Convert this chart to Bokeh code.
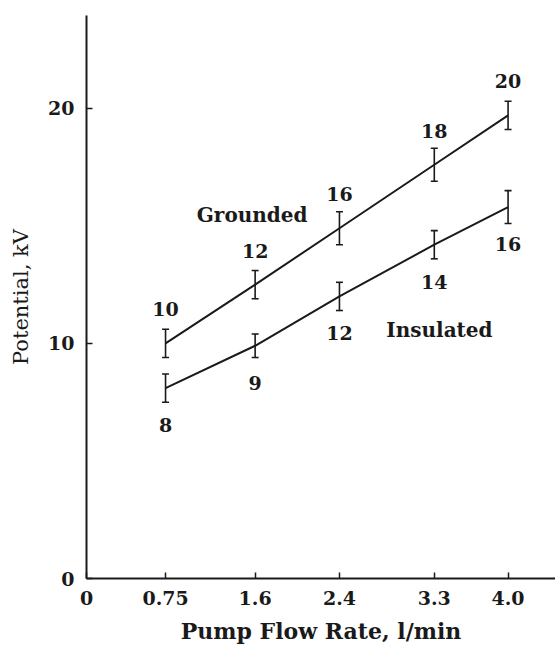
from bokeh.plotting import figure
from bokeh.models import (ColumnDataSource, Range1d, FixedTicker, Whisker, TeeHead, Label)
from bokeh.core.properties import value
from bokeh.embed import file_html
from bokeh.resources import INLINE

# ---- data ----
flow_rate = [0.75, 1.6, 2.4, 3.3, 4.0]
grounded = [10.0, 12.5, 14.9, 17.6, 19.7]
grounded_err = [0.6, 0.6, 0.7, 0.7, 0.6]
grounded_labels = ["10", "12", "16", "18", "20"]
insulated = [8.1, 9.9, 12.0, 14.2, 15.8]
insulated_err = [0.6, 0.5, 0.6, 0.6, 0.7]
insulated_labels = ["8", "9", "12", "14", "16"]
x_ticks = [0, 0.75, 1.6, 2.4, 3.3, 4.0]
x_tick_labels = ["0", "0.75", "1.6", "2.4", "3.3", "4.0"]
y_ticks = [0, 10, 20]

FONT = "DejaVu Serif"
INK = "#1a1a1a"
NUM_SIZE = "19px"

p = figure(width=555, height=654, output_backend="svg", toolbar_location=None,
           x_range=Range1d(0, 4.45), y_range=Range1d(0, 23.95),
           min_border_left=86, min_border_right=0, min_border_top=15, min_border_bottom=76)
p.outline_line_color = None
p.xgrid.visible = False
p.ygrid.visible = False
p.background_fill_color = "white"
p.border_fill_color = "white"

for ax in (p.xaxis[0], p.yaxis[0]):
    ax.axis_line_color = INK
    ax.axis_line_width = 2
    ax.major_tick_line_color = INK
    ax.major_tick_line_width = 1.5
    ax.major_tick_in = 6
    ax.major_tick_out = 0
    ax.minor_tick_line_color = None
    ax.major_label_text_font = FONT
    ax.major_label_text_font_style = "bold"
    ax.major_label_text_font_size = NUM_SIZE
    ax.major_label_text_color = INK
    ax.axis_label_text_font = FONT
    ax.axis_label_text_color = INK

p.xaxis.ticker = FixedTicker(ticks=x_ticks)
p.xaxis.major_label_overrides = {t: l for t, l in zip(x_ticks, x_tick_labels)}
p.xaxis.major_label_standoff = 12
p.xaxis.axis_label = "Pump Flow Rate, l/min"
p.xaxis.axis_label_text_font_style = "bold"
p.xaxis.axis_label_text_font_size = "22px"
p.xaxis.axis_label_standoff = 10

p.yaxis.ticker = FixedTicker(ticks=y_ticks)
p.yaxis.major_label_standoff = 12
p.yaxis.axis_label = "Potential, kV"
p.yaxis.axis_label_text_font_style = "normal"
p.yaxis.axis_label_text_font_size = "21px"
p.yaxis.axis_label_standoff = 12

src_g = ColumnDataSource(dict(x=flow_rate, y=grounded,
                              lo=[v - e for v, e in zip(grounded, grounded_err)],
                              hi=[v + e for v, e in zip(grounded, grounded_err)],
                              lab=grounded_labels))
src_i = ColumnDataSource(dict(x=flow_rate, y=insulated,
                              lo=[v - e for v, e in zip(insulated, insulated_err)],
                              hi=[v + e for v, e in zip(insulated, insulated_err)],
                              lab=insulated_labels))

for src in (src_g, src_i):
    p.line("x", "y", source=src, line_color=INK, line_width=2)
    w = Whisker(base="x", upper="hi", lower="lo", source=src,
                line_color=INK, line_width=1.6,
                upper_head=TeeHead(size=7, line_color=INK, line_width=1.6),
                lower_head=TeeHead(size=7, line_color=INK, line_width=1.6))
    p.add_layout(w)

p.text("x", "y", text="lab", source=src_g, y_offset=-34, text_align="center",
       text_baseline="middle", text_font=value(FONT), text_font_style="bold",
       text_font_size=NUM_SIZE, text_color=INK)
p.text("x", "y", text="lab", source=src_i, y_offset=37, text_align="center",
       text_baseline="middle", text_font=value(FONT), text_font_style="bold",
       text_font_size=NUM_SIZE, text_color=INK)

p.add_layout(Label(x=flow_rate[1], y=grounded[1], x_offset=-3, y_offset=70,
                   text="Grounded", text_align="center", text_baseline="middle",
                   text_font=FONT, text_font_style="bold", text_font_size="20px",
                   text_color=INK))
p.add_layout(Label(x=flow_rate[2], y=insulated[2], x_offset=100, y_offset=-34,
                   text="Insulated", text_align="center", text_baseline="middle",
                   text_font=FONT, text_font_style="bold", text_font_size="20px",
                   text_color=INK))

open("out.html", "w").write(file_html(p, INLINE))
